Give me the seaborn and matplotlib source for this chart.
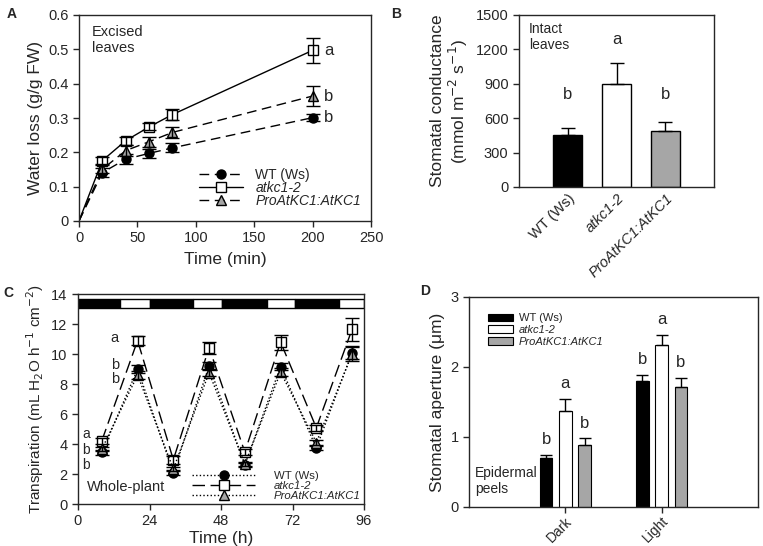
import numpy as np
import pandas as pd
import matplotlib
matplotlib.use("Agg")
import matplotlib.pyplot as plt
import seaborn as sns
from matplotlib.patches import Rectangle, Patch

# ---- data ----
genotypes = ["WT (Ws)", "atkc1-2", "ProAtKC1:AtKC1"]
colors = ["black", "white", "#a6a6a6"]

# A: water loss of excised leaves
time_min = [0, 20, 40, 60, 80, 200]
wl_wt = [0, 0.141, 0.180, 0.197, 0.213, 0.301]
wl_wt_se = [0, 0.012, 0.014, 0.013, 0.013, 0.010]
wl_ko = [0, 0.176, 0.234, 0.274, 0.310, 0.497]
wl_ko_se = [0, 0.010, 0.012, 0.010, 0.015, 0.037]
wl_pro = [0, 0.151, 0.205, 0.231, 0.258, 0.364]
wl_pro_se = [0, 0.012, 0.015, 0.015, 0.015, 0.028]
wl_letters = ["b", "a", "b"]

# B: stomatal conductance, intact leaves
gs_mean = [456, 898, 492]
gs_se = [58, 187, 72]
gs_letters = ["b", "a", "b"]

# C: whole-plant transpiration
time_h = [8, 20, 32, 44, 56, 68, 80, 92]
tr_wt = [3.44, 8.99, 2.10, 9.20, 2.62, 9.16, 3.73, 10.10]
tr_wt_se = [0.15, 0.25, 0.15, 0.25, 0.12, 0.25, 0.15, 0.45]
tr_ko = [4.22, 10.90, 2.95, 10.43, 3.46, 10.80, 5.08, 11.65]
tr_ko_se = [0.20, 0.30, 0.25, 0.40, 0.20, 0.50, 0.20, 0.75]
tr_pro = [3.66, 8.60, 2.33, 8.76, 2.66, 8.79, 4.10, 10.00]
tr_pro_se = [0.15, 0.25, 0.15, 0.25, 0.12, 0.25, 0.15, 0.45]
night_day_edges = [0, 14, 24, 38.5, 48.5, 63.5, 73, 87.5, 96]

# D: stomatal aperture, epidermal peels
light_cond = ["Dark", "Light"]
ap_dark = [0.70, 1.37, 0.88]
ap_dark_se = [0.05, 0.18, 0.10]
ap_light = [1.80, 2.32, 1.72]
ap_light_se = [0.09, 0.14, 0.13]
ap_letters_dark = ["b", "a", "b"]
ap_letters_light = ["b", "a", "b"]

sns.set_style("ticks")
plt.rcParams["font.family"] = ["Liberation Sans", "DejaVu Sans"]
plt.rcParams["axes.linewidth"] = 1.0
plt.rcParams["xtick.direction"] = "out"
plt.rcParams["ytick.direction"] = "out"

fig = plt.figure(figsize=(7.63, 5.46), dpi=100)
W, H = 763, 546


def add_ax(l, t, r, b):
    return fig.add_axes([l / W, 1 - b / H, (r - l) / W, (b - t) / H])


tick_fs = 10.5
lab_fs = 12.5

# ---------------- A ----------------
axA = add_ax(79, 15, 371, 221)
styles = [
    dict(marker="o", mfc="black", ls=(0, (7, 4))),
    dict(marker="s", mfc="white", ls="-"),
    dict(marker="^", mfc="#a6a6a6", ls=(0, (7, 4))),
]
series_a = [(wl_wt, wl_wt_se), (wl_ko, wl_ko_se), (wl_pro, wl_pro_se)]
for (y, e), st, g in zip(series_a, styles, genotypes):
    sns.lineplot(x=time_min, y=y, ax=axA, color="black", linewidth=1.0,
                 linestyle=st["ls"], marker=st["marker"], markersize=6.5,
                 markerfacecolor=st["mfc"], markeredgecolor="black",
                 markeredgewidth=1.0, markevery=list(range(1, len(time_min))),
                 label=g)
    axA.errorbar(time_min[1:], y[1:], yerr=e[1:], fmt="none", ecolor="black",
                 elinewidth=1.0, capsize=5, capthick=1.0)
for y, l in zip([wl_ko[-1], wl_pro[-1], wl_wt[-1]], ["a", "b", "b"]):
    axA.text(time_min[-1] + 14, y, l, fontsize=12, va="center", ha="center")
axA.set_xlim(0, 250)
axA.set_ylim(0, 0.6)
axA.set_xticks([0, 50, 100, 150, 200, 250])
axA.set_yticks([0, 0.1, 0.2, 0.3, 0.4, 0.5, 0.6])
axA.set_yticklabels(["0", "0.1", "0.2", "0.3", "0.4", "0.5", "0.6"])
axA.tick_params(labelsize=tick_fs, length=4, width=1)
axA.set_xlabel("Time (min)", fontsize=lab_fs, labelpad=5)
axA.set_ylabel("Water loss (g/g FW)", fontsize=lab_fs)
axA.text(0.045, 0.95, "Excised\nleaves", transform=axA.transAxes,
         fontsize=10.5, va="top", ha="left", linespacing=1.2)
legA = axA.legend(loc="lower right", frameon=False, fontsize=10,
                  handlelength=3.2, handletextpad=0.9, labelspacing=-0.1,
                  borderaxespad=0.2, bbox_to_anchor=(0.995, 0.025))
for t in legA.get_texts()[1:]:
    t.set_fontstyle("italic")

# ---------------- B ----------------
axB = add_ax(519, 15, 714, 187)
df_b = pd.DataFrame({"genotype": genotypes, "gs": gs_mean})
sns.barplot(data=df_b, x="genotype", y="gs", hue="genotype", palette=colors,
            edgecolor="black", linewidth=1.0, width=0.6, errorbar=None,
            legend=False, ax=axB)
bars_b = list(axB.patches)
for bar, e, l in zip(bars_b, gs_se, gs_letters):
    xc = bar.get_x() + bar.get_width() / 2
    axB.errorbar(xc, bar.get_height(), yerr=[[0], [e]], fmt="none",
                 ecolor="black", elinewidth=1.0, capsize=5, capthick=1.0)
    ypos = 1285 if l == "a" else 805
    axB.text(xc, ypos, l, fontsize=12, ha="center", va="center")
axB.set_xlim(-1, 3)
axB.set_ylim(0, 1500)
axB.set_yticks([0, 300, 600, 900, 1200, 1500])
axB.tick_params(labelsize=tick_fs, length=4, width=1)
axB.tick_params(axis="x", length=0, pad=3)
axB.set_xticks([0, 1, 2])
axB.set_xticklabels(genotypes, rotation=45, ha="right",
                    rotation_mode="anchor", fontsize=tick_fs)
for t in axB.get_xticklabels()[1:]:
    t.set_fontstyle("italic")
axB.set_xlabel("")
axB.set_ylabel("Stomatal conductance\n(mmol m$^{-2}$ s$^{-1}$)",
               fontsize=lab_fs, linespacing=1.1)
axB.text(0.05, 0.96, "Intact\nleaves", transform=axB.transAxes,
         fontsize=10, va="top", ha="left", linespacing=1.2)

# ---------------- C ----------------
axC = add_ax(78, 294, 364, 504)
styles_c = [
    dict(marker="o", mfc="black", ls=(0, (1, 1.6))),
    dict(marker="s", mfc="white", ls=(0, (9, 4))),
    dict(marker="^", mfc="#a6a6a6", ls=(0, (1, 1.6))),
]
series_c = [(tr_wt, tr_wt_se), (tr_ko, tr_ko_se), (tr_pro, tr_pro_se)]
for (y, e), st, g in zip(series_c, styles_c, genotypes):
    sns.lineplot(x=time_h, y=y, ax=axC, color="black", linewidth=1.0,
                 linestyle=st["ls"], marker=st["marker"], markersize=6.5,
                 markerfacecolor=st["mfc"], markeredgecolor="black",
                 markeredgewidth=1.0, label=g)
    axC.errorbar(time_h, y, yerr=e, fmt="none", ecolor="black",
                 elinewidth=1.0, capsize=5, capthick=1.0)
for k, (x0, x1) in enumerate(zip(night_day_edges[:-1], night_day_edges[1:])):
    axC.add_patch(Rectangle((x0, 13.07), x1 - x0, 0.6,
                            facecolor="black" if k % 2 == 0 else "white",
                            edgecolor="black", linewidth=1.0))
axC.text(12.3, 11.05, "a", fontsize=10.5, ha="center", va="center")
axC.text(12.3, 9.27, "b", fontsize=10.5, ha="center", va="center")
axC.text(12.3, 8.32, "b", fontsize=10.5, ha="center", va="center")
axC.text(2.8, 4.7, "a", fontsize=10, ha="center", va="center")
axC.text(2.8, 3.58, "b", fontsize=10, ha="center", va="center")
axC.text(2.8, 2.6, "b", fontsize=10, ha="center", va="center")
axC.text(0.03, 0.08, "Whole-plant", transform=axC.transAxes,
         fontsize=10.5, va="center", ha="left")
axC.set_xlim(0, 96)
axC.set_ylim(0, 14)
axC.set_xticks([0, 24, 48, 72, 96])
axC.set_yticks(range(0, 15, 2))
axC.tick_params(labelsize=tick_fs, length=4, width=1)
axC.set_xlabel("Time (h)", fontsize=lab_fs, labelpad=2)
axC.set_ylabel("Transpiration (mL H$_2$O h$^{-1}$ cm$^{-2}$)", fontsize=11)
legC = axC.legend(loc="lower right", frameon=False, fontsize=8.2,
                  handlelength=5.6, handletextpad=1.6, labelspacing=0.0,
                  borderaxespad=0.1, borderpad=0.2,
                  bbox_to_anchor=(1.0, 0.0))
for t in legC.get_texts()[1:]:
    t.set_fontstyle("italic")

# ---------------- D ----------------
axD = add_ax(469, 297, 758, 507)
df_d = pd.DataFrame({
    "light": [light_cond[0]] * 3 + [light_cond[1]] * 3,
    "genotype": genotypes * 2,
    "aperture": ap_dark + ap_light,
})
se_d = {light_cond[0]: ap_dark_se, light_cond[1]: ap_light_se}
let_d = {light_cond[0]: ap_letters_dark, light_cond[1]: ap_letters_light}
sns.barplot(data=df_d, x="light", y="aperture", hue="genotype",
            palette=colors, edgecolor="black", linewidth=0.8, width=0.6,
            gap=0.35, errorbar=None, legend=False, ax=axD)
bar_conts = list(axD.containers)
for gi, cont in enumerate(bar_conts):
    for ci, bar in enumerate(cont):
        cond = light_cond[ci]
        xc = bar.get_x() + bar.get_width() / 2
        top = bar.get_height() + se_d[cond][gi]
        axD.errorbar(xc, bar.get_height(), yerr=[[0], [se_d[cond][gi]]],
                     fmt="none", ecolor="black", elinewidth=1.0, capsize=4,
                     capthick=1.0)
        axD.text(xc, top + 0.22, let_d[cond][gi], fontsize=12,
                 ha="center", va="center")
axD.set_xlim(-1, 2)
axD.set_ylim(0, 3)
axD.set_yticks([0, 1, 2, 3])
axD.tick_params(labelsize=tick_fs, length=4, width=1)
axD.tick_params(axis="x", pad=1)
axD.set_xticks([0, 1])
axD.set_xticklabels(light_cond, rotation=45, ha="right",
                    rotation_mode="anchor", fontsize=10)
axD.set_xlabel("")
axD.set_ylabel("Stomatal aperture (\u03bcm)", fontsize=lab_fs)
axD.text(0.02, 0.05, "Epidermal\npeels", transform=axD.transAxes,
         fontsize=10, va="bottom", ha="left", linespacing=1.2)
handles = [Patch(facecolor=c, edgecolor="black", linewidth=0.8) for c in colors]
legD = axD.legend(handles, genotypes, loc="upper left", frameon=False,
                  fontsize=8, handlelength=2.3, handleheight=0.7,
                  handletextpad=0.5, labelspacing=0.15,
                  bbox_to_anchor=(0.03, 0.97))
for t in legD.get_texts()[1:]:
    t.set_fontstyle("italic")

for ax in [axA, axB, axC, axD]:
    for s in ax.spines.values():
        s.set_visible(True)
        s.set_linewidth(1.0)

# panel letters
for lab, (px, py) in zip("ABCD", [(12, 14), (396, 14), (8, 293), (425, 291)]):
    fig.text(px / W, 1 - py / H, lab, fontsize=10, fontweight="bold",
             ha="center", va="center")

fig.savefig("out.png", dpi=100)
